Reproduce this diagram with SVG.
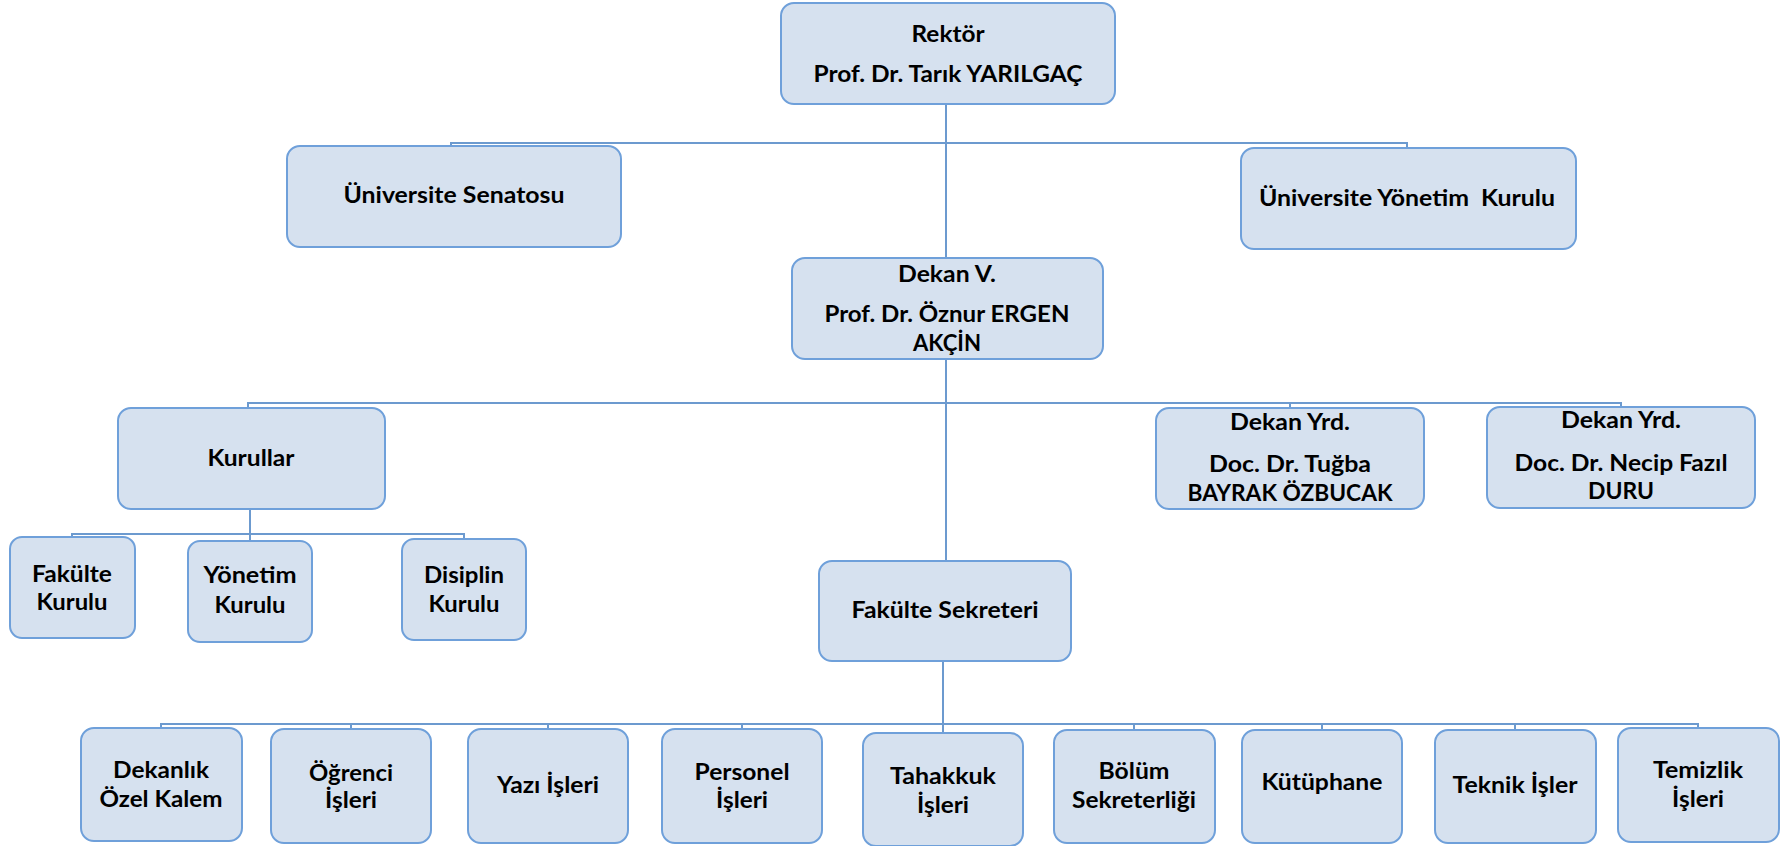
<svg xmlns="http://www.w3.org/2000/svg" width="1783" height="846" viewBox="0 0 1783 846">
<style>
  .box { fill: #D6E1EF; stroke: #6FA0DA; stroke-width: 2; }
  .t { font-family: Lato, "Liberation Sans", sans-serif; font-weight: 700; font-size: 23.5px; fill: #000; text-anchor: middle; }
  .conn { fill: none; stroke: #6C9ACF; stroke-width: 2; }
</style>
<rect width="1783" height="846" fill="#FFFFFF"/>
<g id="connectors">
  <path class="conn" d="M946,104 V258"/>
  <path class="conn" d="M451,146 V143 H1407 V148"/>
  <path class="conn" d="M946,359 V561"/>
  <path class="conn" d="M248,408 V403 H1621 V407 M1290,403 V408"/>
  <path class="conn" d="M250,509 V534"/>
  <path class="conn" d="M72,537 V534 H464 V539 M250,534 V541"/>
  <path class="conn" d="M943,661 V733"/>
  <path class="conn" d="M161,728 V724 H1698 V728 M351,724 V729 M548,724 V729 M742,724 V729 M1134,724 V730 M1322,724 V730 M1515,724 V730"/>
</g>
<g id="rektor">
  <rect class="box" x="781" y="3" width="334" height="101" rx="13"/>
  <text class="t" x="948" y="42" textLength="73" lengthAdjust="spacingAndGlyphs">Rektör</text>
  <text class="t" x="948" y="82" textLength="269" lengthAdjust="spacingAndGlyphs">Prof. Dr. Tarık YARILGAÇ</text>
</g>
<g id="senato">
  <rect class="box" x="287" y="146" width="334" height="101" rx="13"/>
  <text class="t" x="454" y="203" textLength="221" lengthAdjust="spacingAndGlyphs">Üniversite Senatosu</text>
</g>
<g id="yonetim-kurulu-univ">
  <rect class="box" x="1241" y="148" width="335" height="101" rx="13"/>
  <text class="t" x="1407" y="206" style="white-space:pre" textLength="296" lengthAdjust="spacingAndGlyphs">Üniversite Yönetim  Kurulu</text>
</g>
<g id="dekan">
  <rect class="box" x="792" y="258" width="311" height="101" rx="13"/>
  <text class="t" x="947" y="282" textLength="98" lengthAdjust="spacingAndGlyphs">Dekan V.</text>
  <text class="t" x="947" y="322" textLength="245" lengthAdjust="spacingAndGlyphs">Prof. Dr. Öznur ERGEN</text>
  <text class="t" x="947" y="351" textLength="68" lengthAdjust="spacingAndGlyphs">AKÇİN</text>
</g>
<g id="kurullar">
  <rect class="box" x="118" y="408" width="267" height="101" rx="13"/>
  <text class="t" x="251" y="466" textLength="87" lengthAdjust="spacingAndGlyphs">Kurullar</text>
</g>
<g id="dekan-yrd-1">
  <rect class="box" x="1156" y="408" width="268" height="101" rx="13"/>
  <text class="t" x="1290" y="430" textLength="120" lengthAdjust="spacingAndGlyphs">Dekan Yrd.</text>
  <text class="t" x="1290" y="472" textLength="162" lengthAdjust="spacingAndGlyphs">Doc. Dr. Tuğba</text>
  <text class="t" x="1290" y="501" textLength="205" lengthAdjust="spacingAndGlyphs">BAYRAK ÖZBUCAK</text>
</g>
<g id="dekan-yrd-2">
  <rect class="box" x="1487" y="407" width="268" height="101" rx="13"/>
  <text class="t" x="1621" y="428" textLength="120" lengthAdjust="spacingAndGlyphs">Dekan Yrd.</text>
  <text class="t" x="1621" y="471" textLength="213" lengthAdjust="spacingAndGlyphs">Doc. Dr. Necip Fazıl</text>
  <text class="t" x="1621" y="499" textLength="66" lengthAdjust="spacingAndGlyphs">DURU</text>
</g>
<g id="fakulte-kurulu">
  <rect class="box" x="10" y="537" width="125" height="101" rx="12"/>
  <text class="t" x="72" y="582" textLength="80" lengthAdjust="spacingAndGlyphs">Fakülte</text>
  <text class="t" x="72" y="610" textLength="71" lengthAdjust="spacingAndGlyphs">Kurulu</text>
</g>
<g id="yonetim-kurulu">
  <rect class="box" x="188" y="541" width="124" height="101" rx="12"/>
  <text class="t" x="250" y="583" textLength="93" lengthAdjust="spacingAndGlyphs">Yönetim</text>
  <text class="t" x="250" y="613" textLength="71" lengthAdjust="spacingAndGlyphs">Kurulu</text>
</g>
<g id="disiplin-kurulu">
  <rect class="box" x="402" y="539" width="124" height="101" rx="12"/>
  <text class="t" x="464" y="583" textLength="80" lengthAdjust="spacingAndGlyphs">Disiplin</text>
  <text class="t" x="464" y="612" textLength="71" lengthAdjust="spacingAndGlyphs">Kurulu</text>
</g>
<g id="fakulte-sekreteri">
  <rect class="box" x="819" y="561" width="252" height="100" rx="13"/>
  <text class="t" x="945" y="618" textLength="187" lengthAdjust="spacingAndGlyphs">Fakülte Sekreteri</text>
</g>
<g id="dekanlik">
  <rect class="box" x="81" y="728" width="161" height="113" rx="13"/>
  <text class="t" x="161" y="778" textLength="96" lengthAdjust="spacingAndGlyphs">Dekanlık</text>
  <text class="t" x="161" y="807" textLength="123" lengthAdjust="spacingAndGlyphs">Özel Kalem</text>
</g>
<g id="ogrenci">
  <rect class="box" x="271" y="729" width="160" height="114" rx="13"/>
  <text class="t" x="351" y="781" textLength="84" lengthAdjust="spacingAndGlyphs">Öğrenci</text>
  <text class="t" x="351" y="808" textLength="52" lengthAdjust="spacingAndGlyphs">İşleri</text>
</g>
<g id="yazi">
  <rect class="box" x="468" y="729" width="160" height="114" rx="13"/>
  <text class="t" x="548" y="793" textLength="102" lengthAdjust="spacingAndGlyphs">Yazı İşleri</text>
</g>
<g id="personel">
  <rect class="box" x="662" y="729" width="160" height="114" rx="13"/>
  <text class="t" x="742" y="780" textLength="95" lengthAdjust="spacingAndGlyphs">Personel</text>
  <text class="t" x="742" y="808" textLength="52" lengthAdjust="spacingAndGlyphs">İşleri</text>
</g>
<g id="tahakkuk">
  <rect class="box" x="863" y="733" width="160" height="113" rx="13"/>
  <text class="t" x="943" y="784" textLength="106" lengthAdjust="spacingAndGlyphs">Tahakkuk</text>
  <text class="t" x="943" y="813" textLength="52" lengthAdjust="spacingAndGlyphs">İşleri</text>
</g>
<g id="bolum">
  <rect class="box" x="1054" y="730" width="161" height="113" rx="13"/>
  <text class="t" x="1134" y="779" textLength="71" lengthAdjust="spacingAndGlyphs">Bölüm</text>
  <text class="t" x="1134" y="808" textLength="124" lengthAdjust="spacingAndGlyphs">Sekreterliği</text>
</g>
<g id="kutuphane">
  <rect class="box" x="1242" y="730" width="160" height="113" rx="13"/>
  <text class="t" x="1322" y="790" textLength="121" lengthAdjust="spacingAndGlyphs">Kütüphane</text>
</g>
<g id="teknik">
  <rect class="box" x="1435" y="730" width="161" height="113" rx="13"/>
  <text class="t" x="1515" y="793" textLength="125" lengthAdjust="spacingAndGlyphs">Teknik İşler</text>
</g>
<g id="temizlik">
  <rect class="box" x="1618" y="728" width="161" height="114" rx="13"/>
  <text class="t" x="1698" y="778" textLength="90" lengthAdjust="spacingAndGlyphs">Temizlik</text>
  <text class="t" x="1698" y="807" textLength="52" lengthAdjust="spacingAndGlyphs">İşleri</text>
</g>
</svg>
